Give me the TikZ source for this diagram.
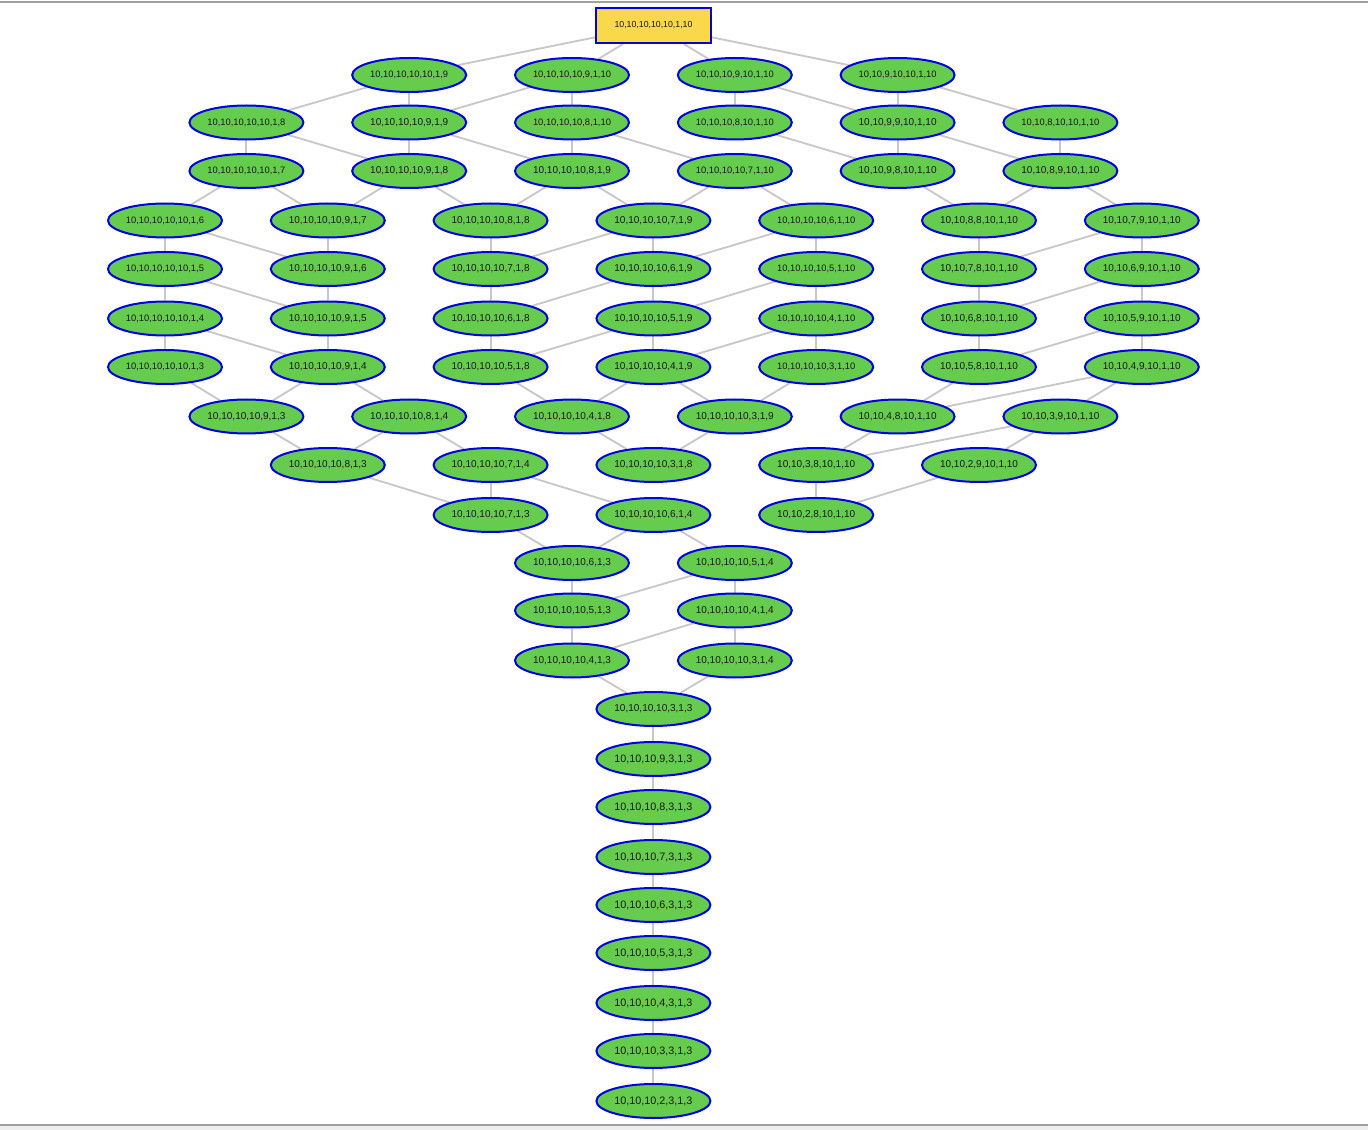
\documentclass[tikz,border=0pt]{standalone}
\usepackage{fontspec}
\usepackage{graphicx}
\setmainfont{Liberation Sans}
\usetikzlibrary{shapes.geometric,backgrounds}
\definecolor{nodegreen}{RGB}{102,204,77}
\definecolor{nodeblue}{RGB}{0,0,224}
\definecolor{rootyellow}{RGB}{249,216,73}
\definecolor{edgegray}{RGB}{200,200,200}
\definecolor{framegray}{RGB}{160,160,160}
\definecolor{framelight}{RGB}{238,238,238}
\definecolor{txt}{RGB}{25,25,25}
\newcommand{\fitl}[1]{\resizebox{58.5pt}{!}{#1}}
\tikzset{
  ell/.style={ellipse, draw=nodeblue, line width=1.5pt, fill=nodegreen, minimum width=85.5pt, minimum height=25.5pt, inner sep=0pt, text=txt, font=\fontsize{7}{8}\selectfont},
  rootbox/.style={rectangle, draw=nodeblue, line width=1.5pt, fill=rootyellow, minimum width=86.25pt, minimum height=26.25pt, inner sep=0pt, text=txt, font=\fontsize{7}{8}\selectfont},
  edge/.style={draw=edgegray, line width=1.4pt}
}
\begin{document}
\begin{tikzpicture}[x=0.75pt,y=-0.75pt]
\useasboundingbox (0,0) rectangle (1368,1130);
\fill[framegray] (0,1.5) rectangle (1368,3.5);
\fill[framelight] (0,1124) rectangle (1368,1130);
\fill[framegray] (0,1124) rectangle (1368,1126);
% row 0
\node[rootbox] (n0x6) at (653.5,25.5) {\fitl{10,10,10,10,10,1,10}};
% row 1
\node[ell] (n1x3) at (409.2,75) {\fitl{10,10,10,10,10,1,9}};
\node[ell] (n1x5) at (572,75) {\fitl{10,10,10,10,9,1,10}};
\node[ell] (n1x7) at (734.8,75) {\fitl{10,10,10,9,10,1,10}};
\node[ell] (n1x9) at (897.6,75) {\fitl{10,10,9,10,10,1,10}};
% row 2
\node[ell] (n2x1) at (246.4,122.5) {\fitl{10,10,10,10,10,1,8}};
\node[ell] (n2x3) at (409.2,122.5) {\fitl{10,10,10,10,9,1,9}};
\node[ell] (n2x5) at (572,122.5) {\fitl{10,10,10,10,8,1,10}};
\node[ell] (n2x7) at (734.8,122.5) {\fitl{10,10,10,8,10,1,10}};
\node[ell] (n2x9) at (897.6,122.5) {\fitl{10,10,9,9,10,1,10}};
\node[ell] (n2x11) at (1060.4,122.5) {\fitl{10,10,8,10,10,1,10}};
% row 3
\node[ell] (n3x1) at (246.4,171) {\fitl{10,10,10,10,10,1,7}};
\node[ell] (n3x3) at (409.2,171) {\fitl{10,10,10,10,9,1,8}};
\node[ell] (n3x5) at (572,171) {\fitl{10,10,10,10,8,1,9}};
\node[ell] (n3x7) at (734.8,171) {\fitl{10,10,10,10,7,1,10}};
\node[ell] (n3x9) at (897.6,171) {\fitl{10,10,9,8,10,1,10}};
\node[ell] (n3x11) at (1060.4,171) {\fitl{10,10,8,9,10,1,10}};
% row 4
\node[ell] (n4x0) at (165,220.5) {\fitl{10,10,10,10,10,1,6}};
\node[ell] (n4x2) at (327.8,220.5) {\fitl{10,10,10,10,9,1,7}};
\node[ell] (n4x4) at (490.6,220.5) {\fitl{10,10,10,10,8,1,8}};
\node[ell] (n4x6) at (653.4,220.5) {\fitl{10,10,10,10,7,1,9}};
\node[ell] (n4x8) at (816.2,220.5) {\fitl{10,10,10,10,6,1,10}};
\node[ell] (n4x10) at (979,220.5) {\fitl{10,10,8,8,10,1,10}};
\node[ell] (n4x12) at (1141.8,220.5) {\fitl{10,10,7,9,10,1,10}};
% row 5
\node[ell] (n5x0) at (165,269) {\fitl{10,10,10,10,10,1,5}};
\node[ell] (n5x2) at (327.8,269) {\fitl{10,10,10,10,9,1,6}};
\node[ell] (n5x4) at (490.6,269) {\fitl{10,10,10,10,7,1,8}};
\node[ell] (n5x6) at (653.4,269) {\fitl{10,10,10,10,6,1,9}};
\node[ell] (n5x8) at (816.2,269) {\fitl{10,10,10,10,5,1,10}};
\node[ell] (n5x10) at (979,269) {\fitl{10,10,7,8,10,1,10}};
\node[ell] (n5x12) at (1141.8,269) {\fitl{10,10,6,9,10,1,10}};
% row 6
\node[ell] (n6x0) at (165,318.5) {\fitl{10,10,10,10,10,1,4}};
\node[ell] (n6x2) at (327.8,318.5) {\fitl{10,10,10,10,9,1,5}};
\node[ell] (n6x4) at (490.6,318.5) {\fitl{10,10,10,10,6,1,8}};
\node[ell] (n6x6) at (653.4,318.5) {\fitl{10,10,10,10,5,1,9}};
\node[ell] (n6x8) at (816.2,318.5) {\fitl{10,10,10,10,4,1,10}};
\node[ell] (n6x10) at (979,318.5) {\fitl{10,10,6,8,10,1,10}};
\node[ell] (n6x12) at (1141.8,318.5) {\fitl{10,10,5,9,10,1,10}};
% row 7
\node[ell] (n7x0) at (165,367) {\fitl{10,10,10,10,10,1,3}};
\node[ell] (n7x2) at (327.8,367) {\fitl{10,10,10,10,9,1,4}};
\node[ell] (n7x4) at (490.6,367) {\fitl{10,10,10,10,5,1,8}};
\node[ell] (n7x6) at (653.4,367) {\fitl{10,10,10,10,4,1,9}};
\node[ell] (n7x8) at (816.2,367) {\fitl{10,10,10,10,3,1,10}};
\node[ell] (n7x10) at (979,367) {\fitl{10,10,5,8,10,1,10}};
\node[ell] (n7x12) at (1141.8,367) {\fitl{10,10,4,9,10,1,10}};
% row 8
\node[ell] (n8x1) at (246.4,416.5) {\fitl{10,10,10,10,9,1,3}};
\node[ell] (n8x3) at (409.2,416.5) {\fitl{10,10,10,10,8,1,4}};
\node[ell] (n8x5) at (572,416.5) {\fitl{10,10,10,10,4,1,8}};
\node[ell] (n8x7) at (734.8,416.5) {\fitl{10,10,10,10,3,1,9}};
\node[ell] (n8x9) at (897.6,416.5) {\fitl{10,10,4,8,10,1,10}};
\node[ell] (n8x11) at (1060.4,416.5) {\fitl{10,10,3,9,10,1,10}};
% row 9
\node[ell] (n9x2) at (327.8,465) {\fitl{10,10,10,10,8,1,3}};
\node[ell] (n9x4) at (490.6,465) {\fitl{10,10,10,10,7,1,4}};
\node[ell] (n9x6) at (653.4,465) {\fitl{10,10,10,10,3,1,8}};
\node[ell] (n9x8) at (816.2,465) {\fitl{10,10,3,8,10,1,10}};
\node[ell] (n9x10) at (979,465) {\fitl{10,10,2,9,10,1,10}};
% row 10
\node[ell] (n10x4) at (490.6,515) {\fitl{10,10,10,10,7,1,3}};
\node[ell] (n10x6) at (653.4,515) {\fitl{10,10,10,10,6,1,4}};
\node[ell] (n10x8) at (816.2,515) {\fitl{10,10,2,8,10,1,10}};
% row 11
\node[ell] (n11x5) at (572,563) {\fitl{10,10,10,10,6,1,3}};
\node[ell] (n11x7) at (734.8,563) {\fitl{10,10,10,10,5,1,4}};
% row 12
\node[ell] (n12x5) at (572,610.5) {\fitl{10,10,10,10,5,1,3}};
\node[ell] (n12x7) at (734.8,610.5) {\fitl{10,10,10,10,4,1,4}};
% row 13
\node[ell] (n13x5) at (572,660.5) {\fitl{10,10,10,10,4,1,3}};
\node[ell] (n13x7) at (734.8,660.5) {\fitl{10,10,10,10,3,1,4}};
% chain
\node[ell] (n14x6) at (653.4,709) {\fitl{10,10,10,10,3,1,3}};
\node[ell] (n15x6) at (653.4,759) {\fitl{10,10,10,9,3,1,3}};
\node[ell] (n16x6) at (653.4,807) {\fitl{10,10,10,8,3,1,3}};
\node[ell] (n17x6) at (653.4,857) {\fitl{10,10,10,7,3,1,3}};
\node[ell] (n18x6) at (653.4,905) {\fitl{10,10,10,6,3,1,3}};
\node[ell] (n19x6) at (653.4,953) {\fitl{10,10,10,5,3,1,3}};
\node[ell] (n20x6) at (653.4,1003) {\fitl{10,10,10,4,3,1,3}};
\node[ell] (n21x6) at (653.4,1051) {\fitl{10,10,10,3,3,1,3}};
\node[ell] (n22x6) at (653.4,1101) {\fitl{10,10,10,2,3,1,3}};
\begin{pgfonlayer}{background}
\foreach \a/\b in {n0x6/n1x3, n0x6/n1x5, n0x6/n1x7, n0x6/n1x9,
  n1x3/n2x1, n1x3/n2x3, n1x5/n2x3, n1x5/n2x5, n1x7/n2x7, n1x7/n2x9, n1x9/n2x9, n1x9/n2x11,
  n2x1/n3x1, n2x1/n3x3, n2x3/n3x3, n2x3/n3x5, n2x5/n3x5, n2x5/n3x7, n2x7/n3x9, n2x9/n3x9, n2x9/n3x11, n2x11/n3x11,
  n3x1/n4x0, n3x1/n4x2, n3x3/n4x2, n3x3/n4x4, n3x5/n4x4, n3x5/n4x6, n3x7/n4x6, n3x7/n4x8, n3x9/n4x10, n3x11/n4x10, n3x11/n4x12,
  n7x0/n8x1, n7x2/n8x1, n7x2/n8x3, n7x4/n8x5, n7x6/n8x5, n7x6/n8x7, n7x8/n8x7, n7x10/n8x9, n7x12/n8x9, n7x12/n8x11,
  n8x1/n9x2, n8x3/n9x2, n8x3/n9x4, n8x5/n9x6, n8x7/n9x6, n8x9/n9x8, n8x11/n9x8, n8x11/n9x10,
  n9x2/n10x4, n9x4/n10x4, n9x4/n10x6, n9x8/n10x8, n9x10/n10x8,
  n10x4/n11x5, n10x6/n11x5, n10x6/n11x7,
  n11x5/n12x5, n11x7/n12x5, n11x7/n12x7,
  n12x5/n13x5, n12x7/n13x5, n12x7/n13x7,
  n13x5/n14x6, n13x7/n14x6,
  n14x6/n15x6, n15x6/n16x6, n16x6/n17x6, n17x6/n18x6, n18x6/n19x6, n19x6/n20x6, n20x6/n21x6, n21x6/n22x6}
  {\draw[edge] (\a) -- (\b);}
\foreach \r [evaluate=\r as \s using int(\r+1)] in {4,5,6}{
  \foreach \a/\b in {0/0, 0/2, 2/2, 4/4, 6/4, 6/6, 8/6, 8/8, 10/10, 12/10, 12/12}
    {\draw[edge] (n\r x\a) -- (n\s x\b);}
}
\end{pgfonlayer}
\end{tikzpicture}
\end{document}
